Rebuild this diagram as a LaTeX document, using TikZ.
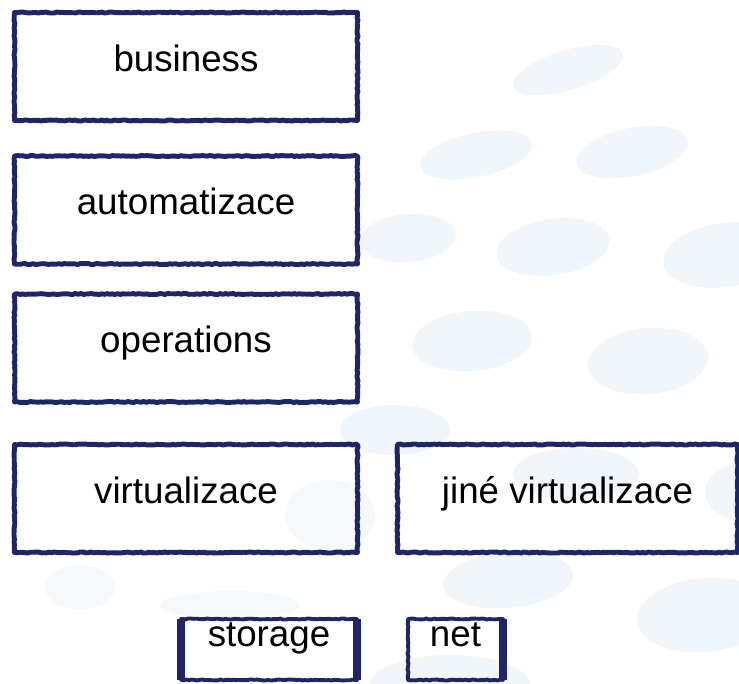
\documentclass[tikz,border=0pt]{standalone}
\usepackage{fontspec}
\setmainfont{Liberation Sans}
\usetikzlibrary{decorations.pathmorphing}
\definecolor{inkblue}{RGB}{30,38,104}
\definecolor{blobblue}{RGB}{240,246,250}
\definecolor{blobpale}{RGB}{246,249,252}
\tikzset{
	sketch/.style={draw=inkblue,line width=2.8pt,decorate,
		decoration={random steps,segment length=1.5pt,amplitude=0.3pt}},
	bigbox/.style={sketch,rectangle,minimum width=6.86cm,minimum height=2.16cm,
		inner sep=0pt,text height=0.52cm,text depth=0.34cm},
	smallbox/.style={sketch,line width=2.2pt,rectangle,minimum height=1.22cm,
		inner sep=0pt,outer sep=0pt,text height=0.52cm,text depth=0.64cm},
	thickside/.style={draw=inkblue,line width=4.8pt,line cap=butt},
	blob/.style={fill=blobblue},
	paleblob/.style={fill=blobpale}
}
\begin{document}
\begin{tikzpicture}[x=0.2mm,y=-0.2mm,line join=round,font=\fontsize{20.9}{25}\selectfont]
	\pgfmathsetseed{7}
	\useasboundingbox (0,0) rectangle (739,683);
	% background spots
	\fill[blob] (568,70) circle [x radius=57,y radius=20,rotate=17]
	(476,155) circle [x radius=57,y radius=22,rotate=12]
	(632,152) circle [x radius=57,y radius=24,rotate=12]
	(408,238) circle [x radius=48,y radius=24,rotate=5]
	(553,247) circle [x radius=57,y radius=28,rotate=8]
	(725,255) circle [x radius=62,y radius=32,rotate=8]
	(472,341) circle [x radius=60,y radius=30,rotate=5]
	(648,361) circle [x radius=60,y radius=33,rotate=5]
	(395,430) circle [x radius=55,y radius=25]
	(576,474) circle [x radius=63,y radius=26]
	(750,492) circle [x radius=45,y radius=30]
	(508,580) circle [x radius=65,y radius=28,rotate=5]
	(705,615) circle [x radius=68,y radius=37,rotate=5]
	(450,685) circle [x radius=80,y radius=30];
	\fill[paleblob] (80,587) circle [x radius=35,y radius=22]
	(230,605) circle [x radius=70,y radius=14]
	(330,515) circle [x radius=45,y radius=35];
	% layers
	\node[bigbox] (business) at (186,66.5) {business};
	\node[bigbox] (automatizace) at (186,210) {automatizace};
	\node[bigbox] (operations) at (186,348) {operations};
	\node[bigbox] (virtualizace) at (186,498.5) {virtualizace};
	\node[bigbox,minimum width=6.8cm] (jine) at (567.5,498.5) {jiné virtualizace};
	\node[smallbox,minimum width=3.52cm] (storage) at (269,649.5) {storage};
	\node[smallbox,minimum width=1.9cm] (net) at (455.5,649.5) {net};
	\draw[thickside] (storage.north west) -- (storage.south west)
	(storage.north east) -- (storage.south east)
	(net.north east) -- (net.south east);
\end{tikzpicture}
\end{document}
